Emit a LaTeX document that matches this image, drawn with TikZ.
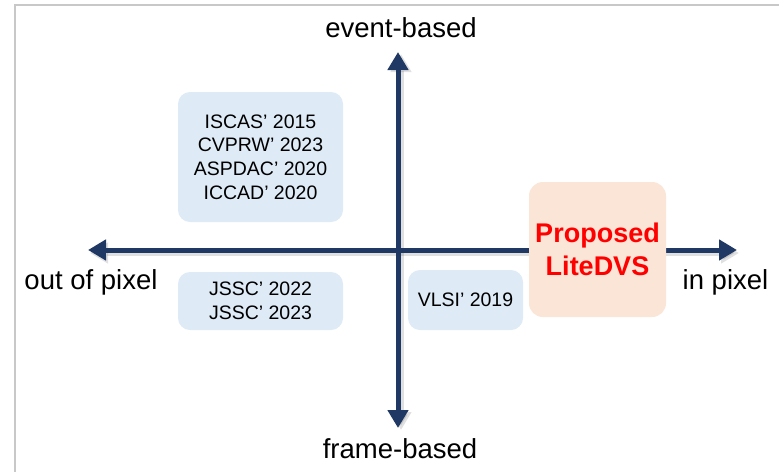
\documentclass[tikz,border=0pt]{standalone}
\usepackage{fontspec}
\setmainfont{Liberation Sans}
\usetikzlibrary{arrows.meta}
\definecolor{navy}{HTML}{203864}
\definecolor{boxblue}{HTML}{DEEAF6}
\definecolor{boxpeach}{HTML}{FBE5D6}
\definecolor{frame}{HTML}{C8C8C8}
\tikzset{
  axis/.style={line width=5pt, draw=navy, -{Triangle[length=18pt,width=20pt]}},
  axshadow/.style={line width=5pt, draw=black, opacity=0.12, -{Triangle[length=18pt,width=20pt]}},
  refbox/.style={fill=boxblue, rounded corners=12pt, inner sep=0pt, align=center,
    font=\fontsize{19.5}{23.7}\selectfont},
  propbox/.style={fill=boxpeach, rounded corners=14pt, inner sep=0pt, align=center,
    text=red, font=\fontsize{27}{33}\selectfont\bfseries},
  axlabel/.style={inner sep=0pt, font=\fontsize{27.5}{33}\selectfont}
}
\begin{document}
\begin{tikzpicture}[x=1pt,y=-1pt]
\useasboundingbox (0,0) rectangle (779,472);
\fill[white] (0,0) rectangle (779,472);
\draw[frame, line width=2pt] (15,472) -- (15,5) -- (779,5);
% axis end points
\coordinate (L) at (88,250);
\coordinate (R) at (737,250);
\coordinate (T) at (398,52);
\coordinate (B) at (398,428);
\coordinate (C) at (398,250);
% shadows
\draw[axshadow] ([shift={(2,3)}]C) -- ([shift={(2,3)}]L);
\draw[axshadow] ([shift={(2,3)}]C) -- ([shift={(2,3)}]R);
\draw[axshadow] ([shift={(3,2)}]C) -- ([shift={(3,2)}]T);
\draw[axshadow] ([shift={(3,2)}]C) -- ([shift={(3,2)}]B);
% axes
\draw[axis] (C) -- (L);
\draw[axis] (C) -- (R);
\draw[axis] (C) -- (T);
\draw[axis] (C) -- (B);
% boxes
\node[refbox, minimum width=165pt, minimum height=130pt] (tl) at (260.5,157)
  {ISCAS’ 2015\\CVPRW’ 2023\\ASPDAC’ 2020\\ICCAD’ 2020};
\node[refbox, minimum width=165pt, minimum height=58pt] (bl) at (260.5,301)
  {JSSC’ 2022\\JSSC’ 2023};
\node[refbox, minimum width=115pt, minimum height=60pt] (br) at (465.5,300)
  {VLSI’ 2019};
\node[propbox, minimum width=137pt, minimum height=135pt] (prop) at (597.5,249.5)
  {Proposed\\LiteDVS};
% axis labels
\node[axlabel] (ev) at (401,28) {event-based};
\node[axlabel] (fr) at (400,449) {frame-based};
\node[axlabel] (op) at (91,282) {out of pixel};
\node[axlabel] (ip) at (725.5,282) {in pixel};
\end{tikzpicture}
\end{document}
